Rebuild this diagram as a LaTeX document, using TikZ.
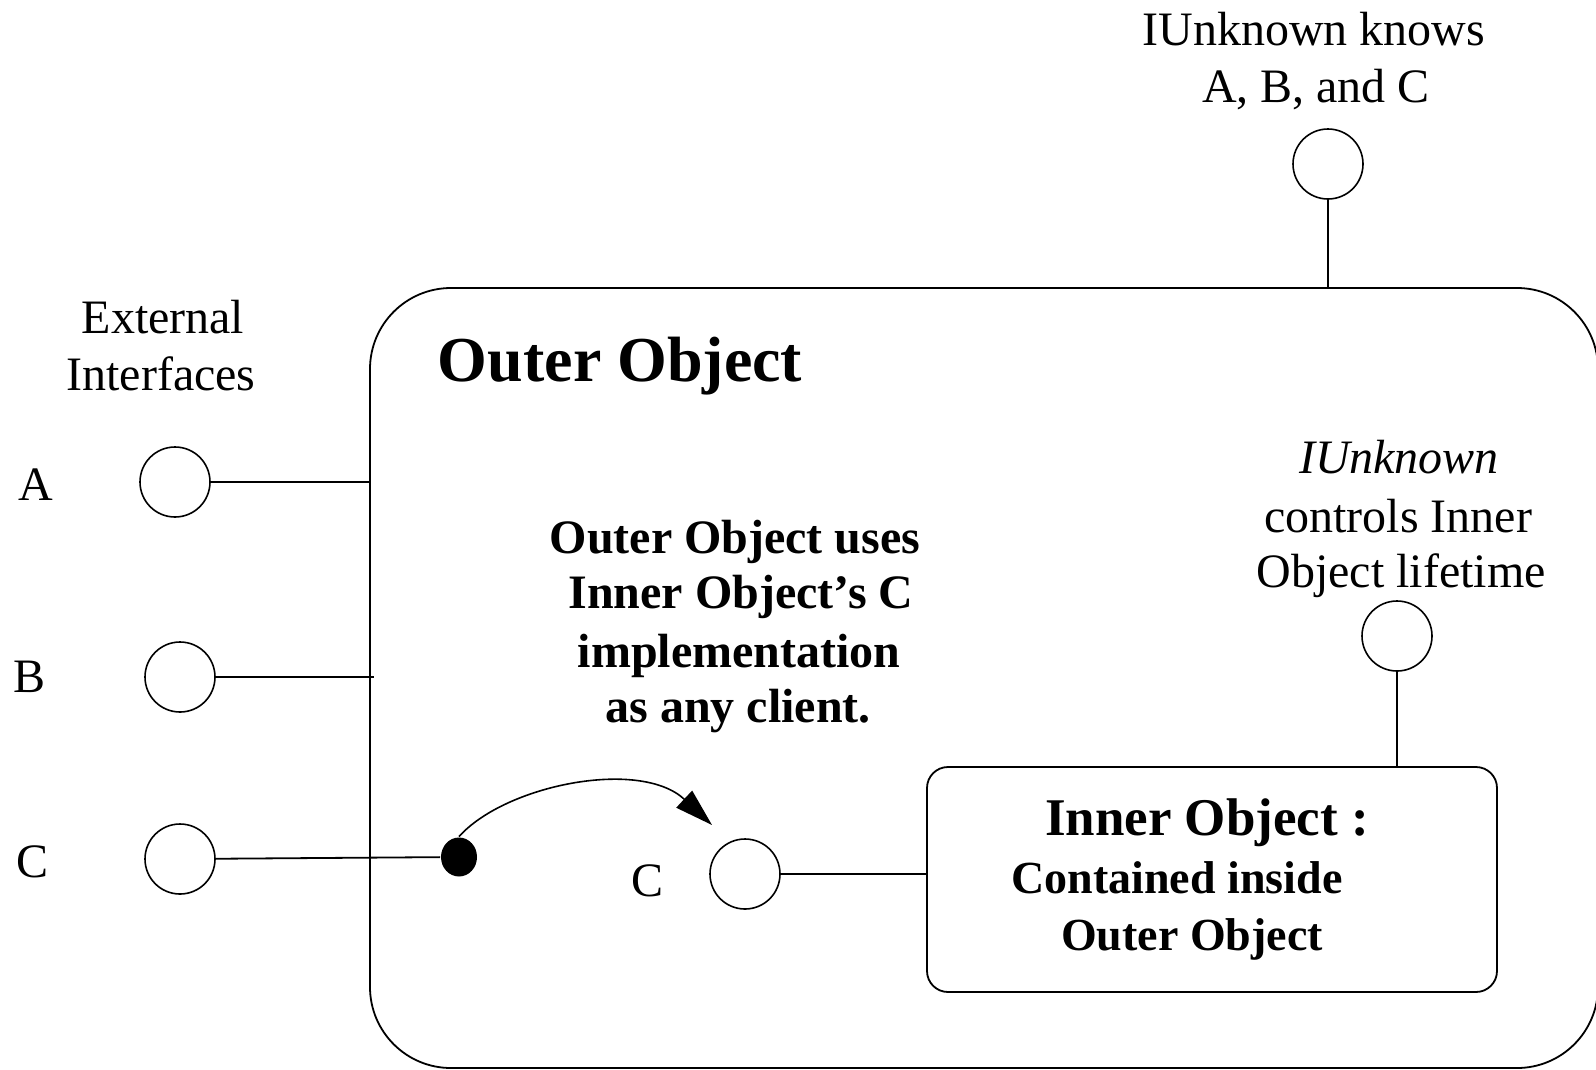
\documentclass[tikz,border=0pt]{standalone}
\usepackage{fontspec}
\setmainfont{Liberation Serif}
\usetikzlibrary{arrows.meta,shapes.geometric}

\begin{document}
\begin{tikzpicture}[x=1pt,y=-1pt,line width=1.8pt,
  iface/.style={draw, circle, minimum size=70pt, inner sep=0pt, line width=1.6pt},
  lbl/.style={anchor=base, inner sep=0pt, font=\fontsize{48}{57}\selectfont},
  ilbl/.style={lbl, font=\fontsize{48}{57}\selectfont\itshape},
  blbl/.style={anchor=base, inner sep=0pt, font=\fontsize{48}{57}\selectfont\bfseries},
  objbox/.style={draw, inner sep=0pt}]
\useasboundingbox (0,0) rectangle (1596,1069);

% containers
\node[objbox, rounded corners=81pt, minimum width=1228pt, minimum height=780pt] (outer) at (984,678) {};
\node[objbox, rounded corners=21pt, minimum width=570pt, minimum height=225pt] (inner) at (1212,879.5) {};

% interface lollipops
\node[iface] (ifA) at (175,482) {};
\node[iface] (ifB) at (180,677) {};
\node[iface] (ifC) at (180,859) {};
\node[iface] (ifCin) at (745,874) {};
\node[iface] (unkTop) at (1328,164) {};
\node[iface] (unkIn) at (1397,636) {};
\node[ellipse, fill, minimum width=36pt, minimum height=39pt, inner sep=0pt] (dot) at (459,857) {};
\coordinate (tip) at (712,825);

\draw (ifA) -- (ifA -| outer.west);
\draw (ifB) -- ([xshift=5pt]ifB -| outer.west);
\draw (ifC) -- (dot);
\draw (ifCin) -- (ifCin -| inner.west);
\draw (unkTop) -- (unkTop |- outer.north);
\draw (unkIn) -- (unkIn |- inner.north);
\draw[line width=1.6pt, -{Triangle[length=38pt,width=23pt]}] (dot.north) .. controls (505,785) and (640,758) .. (tip);

% labels
\node[lbl] (lA) at (36,500) {A};
\node[lbl] (lB) at (30,692) {B};
\node[lbl] (lC) at (33,877) {C};
\node[lbl] (lCin) at (648,896) {C};
\node[lbl] (ext1) at (163,333) {External};
\node[lbl] (ext2) at (161,390) {Interfaces};
\node[lbl] (kn1) at (1314,45) {IUnknown knows};
\node[lbl] (kn2) at (1316,102) {A, B, and C};
\node[ilbl] (ct1) at (1399,473) {IUnknown};
\node[lbl] (ct2) at (1398,532) {controls Inner};
\node[lbl] (ct3) at (1401,587) {Object lifetime};

\node[anchor=base west, inner sep=0pt, font=\fontsize{64}{70}\selectfont\bfseries] (title) at (437,381) {Outer Object};

\node[blbl] (us1) at (735,553) {Outer Object uses};
\node[blbl] (us2) at (741,608) {Inner Object’s C};
\node[blbl] (us3) at (739,667) {implementation};
\node[blbl] (us4) at (738,722) {as any client.};

\node[blbl, font=\fontsize{53}{60}\selectfont\bfseries] (in1) at (1207,835) {Inner Object :};
\node[blbl, font=\fontsize{46}{57}\selectfont\bfseries] (in2) at (1177,893) {Contained inside};
\node[blbl, font=\fontsize{46}{57}\selectfont\bfseries] (in3) at (1192,950) {Outer Object};
\end{tikzpicture}
\end{document}
